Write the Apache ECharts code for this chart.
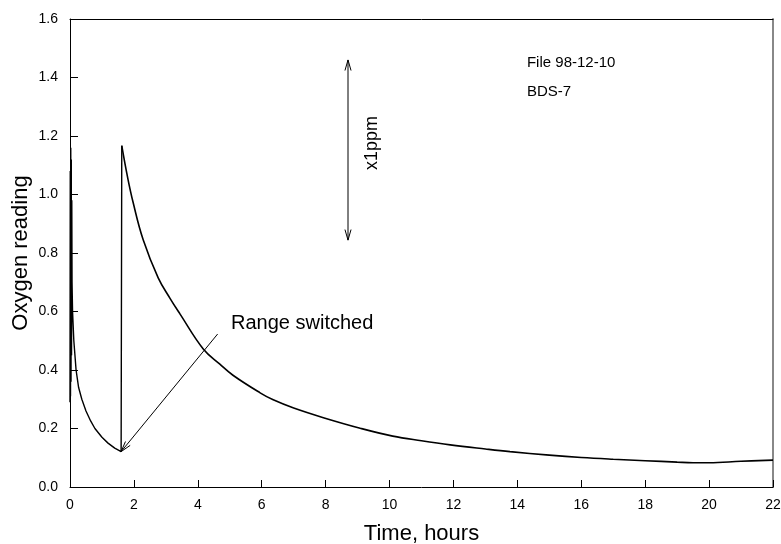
<!DOCTYPE html>
<html>
<head>
<meta charset="utf-8">
<script src="https://cdn.jsdelivr.net/npm/echarts@6/dist/echarts.min.js"></script>
<style>html,body{margin:0;padding:0;background:#fff;}#c{width:781px;height:544px;}</style>
</head>
<body>
<div id="c"></div>
<script>
// ---- data ----
const xTicks = [0, 2, 4, 6, 8, 10, 12, 14, 16, 18, 20, 22];
const yTicks = [0.0, 0.2, 0.4, 0.6, 0.8, 1.0, 1.2, 1.4, 1.6];

// first run (before range switch), time in hours / reading
const firstTime = [0.000, 0.008, 0.016, 0.024, 0.032, 0.040, 0.048, 0.056, 0.064, 0.08, 0.12, 0.19, 0.27, 0.37, 0.50, 0.65, 0.78, 1.00, 1.19, 1.40, 1.60, 1.62];
const firstVal  = [0.29, 1.08, 0.31, 1.16, 0.36, 1.12, 0.45, 0.98, 0.70, 0.60, 0.50, 0.40, 0.34, 0.30, 0.26, 0.225, 0.20, 0.17, 0.15, 0.133, 0.121, 1.167];

// after range switch
const secondTime = [1.62, 1.80, 1.97, 2.29, 2.76, 3.13, 3.44, 4.17, 4.69, 5.10, 5.95, 6.36, 7.00, 7.93, 9.08, 10.10, 11.00, 11.90, 13.00, 13.77, 15.00, 16.00, 17.00, 18.00, 19.00, 19.50, 20.00, 21.00, 22.00];
const secondVal  = [1.167, 1.06, 0.975, 0.845, 0.715, 0.645, 0.592, 0.472, 0.420, 0.382, 0.322, 0.298, 0.270, 0.237, 0.201, 0.174, 0.158, 0.144, 0.130, 0.121, 0.109, 0.101, 0.095, 0.090, 0.085, 0.083, 0.083, 0.088, 0.092];

// annotations (data coordinates)
const arrowLines = [
  [4.62, 0.523, 1.60, 0.121, 0],  // "Range switched" arrow, head at end
  [8.70, 0.844, 8.70, 1.460, 1]   // x1ppm double arrow
];
const annoTexts = ['Range switched', 'x1ppm', 'File 98-12-10', 'BDS-7'];
const annoPos = [[5.04, 0.56], [9.44, 1.176], [14.3, 1.45], [14.3, 1.35]];

// ---- chart ----
const FONT = "'Liberation Sans', Arial, Helvetica, sans-serif";
const zip = (a, b) => a.map((v, i) => [v, b[i]]);
const annoSize = [20, 18, 15, 15];
const annoRot = [0, Math.PI / 2, 0, 0];
const annoAlign = ['left', 'center', 'left', 'left'];

const chart = echarts.init(document.getElementById('c'), null, {renderer: 'canvas'});

function headPts(tip, from, len, ang) {
  const dx = from[0] - tip[0], dy = from[1] - tip[1];
  const d = Math.sqrt(dx * dx + dy * dy);
  const ux = dx / d, uy = dy / d;
  const c = Math.cos(ang), s = Math.sin(ang);
  const p1 = [tip[0] + len * (ux * c - uy * s), tip[1] + len * (ux * s + uy * c)];
  const p2 = [tip[0] + len * (ux * c + uy * s), tip[1] + len * (-ux * s + uy * c)];
  return [p1, tip, p2];
}

chart.setOption({
  animation: false,
  backgroundColor: '#fff',
  grid: {left: 70, right: 8, top: 19, bottom: 57, containLabel: false, outerBoundsMode: 'none'},
  xAxis: [{
    type: 'value', min: 0, max: 22, interval: 2, position: 'bottom',
    name: 'Time, hours', nameLocation: 'middle', nameGap: 36, nameMoveOverlap: false,
    nameTextStyle: {fontSize: 22, color: '#000', fontFamily: FONT},
    axisLine: {show: true, onZero: false, lineStyle: {color: '#000', width: 1}},
    axisTick: {show: true, inside: true, length: 7, lineStyle: {color: '#000'}},
    axisLabel: {fontSize: 14, color: '#000', margin: 11, fontFamily: FONT,
      formatter: v => xTicks.includes(v) ? String(v) : ''},
    splitLine: {show: false}
  }, {
    type: 'value', min: 0, max: 22, position: 'top',
    axisLine: {show: true, onZero: false, lineStyle: {color: '#000', width: 1}},
    axisTick: {show: false}, axisLabel: {show: false}, splitLine: {show: false}
  }],
  yAxis: [{
    type: 'value', min: 0, max: 1.6, interval: 0.2, position: 'left',
    name: 'Oxygen reading', nameLocation: 'middle', nameGap: 38, nameMoveOverlap: false,
    nameTextStyle: {fontSize: 22, color: '#000', fontFamily: FONT},
    axisLine: {show: true, onZero: false, lineStyle: {color: '#000', width: 1}},
    axisTick: {show: true, inside: true, length: 8, lineStyle: {color: '#000'}},
    axisLabel: {fontSize: 14, color: '#000', margin: 12, fontFamily: FONT,
      formatter: v => yTicks.some(t => Math.abs(t - v) < 1e-9) ? v.toFixed(1) : ''},
    splitLine: {show: false}
  }, {
    type: 'value', min: 0, max: 1.6, position: 'right',
    axisLine: {show: true, onZero: false, lineStyle: {color: '#888', width: 2}},
    axisTick: {show: false}, axisLabel: {show: false}, splitLine: {show: false}
  }],
  series: [{
    type: 'line', name: 'first', data: zip(firstTime, firstVal),
    showSymbol: false, smooth: false,
    lineStyle: {color: '#000', width: 1.4}
  }, {
    type: 'line', name: 'second', data: zip(secondTime, secondVal),
    showSymbol: false, smooth: 0.4,
    lineStyle: {color: '#000', width: 1.6}
  }, {
    type: 'custom', name: 'arrows', data: arrowLines, silent: true,
    renderItem: function (params, api) {
      const a = api.coord([api.value(0), api.value(1)]);
      const b = api.coord([api.value(2), api.value(3)]);
      const both = api.value(4) === 1;
      const st = {stroke: '#000', lineWidth: 1, fill: 'none'};
      const kids = [
        {type: 'line', shape: {x1: a[0], y1: a[1], x2: b[0], y2: b[1]}, style: st},
        {type: 'polyline', shape: {points: headPts(b, a, 11, 0.28)}, style: st}
      ];
      if (both) kids.push({type: 'polyline', shape: {points: headPts(a, b, 11, 0.28)}, style: st});
      return {type: 'group', children: kids};
    }
  }, {
    type: 'custom', name: 'labels', data: annoPos, silent: true,
    renderItem: function (params, api) {
      const i = params.dataIndex;
      const p = api.coord([api.value(0), api.value(1)]);
      return {
        type: 'text', x: p[0], y: p[1], rotation: annoRot[i],
        style: {text: annoTexts[i], fontSize: annoSize[i], fontFamily: FONT, fill: '#000',
          align: annoAlign[i], verticalAlign: 'middle'}
      };
    }
  }]
});
</script>
</body>
</html>
